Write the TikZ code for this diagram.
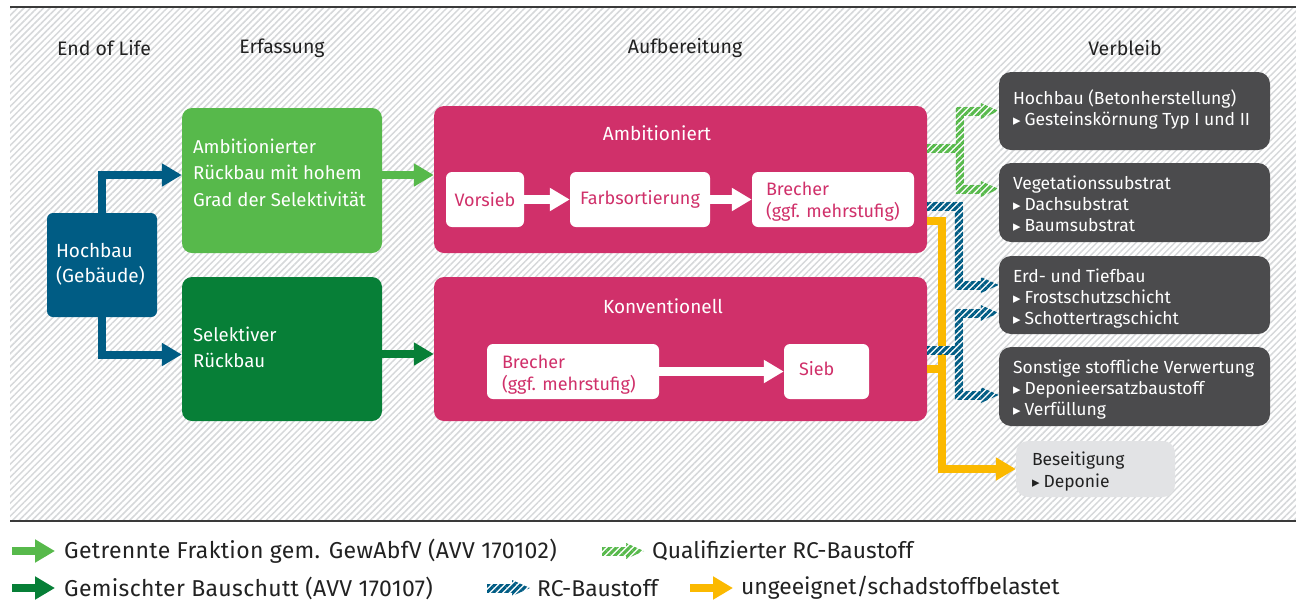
\documentclass[tikz,border=0pt]{standalone}
\usepackage{fontspec}
\setmainfont{Fira Sans}
\newfontfamily\dejavu{DejaVu Sans}
\usetikzlibrary{arrows.meta,calc,patterns.meta}

\definecolor{bgline}{HTML}{D6D8DA}
\definecolor{hbblue}{HTML}{005C84}
\definecolor{lgreen}{HTML}{57B94B}
\definecolor{dgreen}{HTML}{077F37}
\definecolor{mag}{HTML}{D0306A}
\definecolor{dgray}{HTML}{4B4B4D}
\definecolor{lgray}{HTML}{E2E3E5}
\definecolor{yel}{HTML}{FBB900}
\definecolor{txt}{HTML}{222222}
\definecolor{rule}{HTML}{3A3A3A}

\newcommand\tri{{\dejavu\fontsize{15}{15}\selectfont ▸}\hspace{4pt}}
% struts to fine-tune the vertical position of text blocks
\newcommand\up[1]{\rule{0pt}{#1}}
\newcommand\dn[1]{\rule[-#1]{0pt}{#1}}
% left-aligned block of fixed width, lines never broken
\newcommand\lt[2]{\makebox[#1][l]{\begin{tabular}{@{}l@{}}#2\end{tabular}}}
% hatched connector pieces (white ground, coloured stripes)
\newcommand\hH[3]{\fill[white] ($(#2)+(0,-4)$) rectangle ($(#3)+(0,4)$);
  \fill[#1] ($(#2)+(0,-4)$) rectangle ($(#3)+(0,4)$);}
\newcommand\hV[3]{\fill[white] ($(#2)+(-4,-4)$) rectangle ($(#3)+(4,4)$);
  \fill[#1] ($(#2)+(-4,-4)$) rectangle ($(#3)+(4,4)$);}
\newcommand\hArrow[3]{\fill[white] ($(#2)+(0,-4)$) rectangle ($(#3)+(-17,4)$);
  \fill[#1] ($(#2)+(0,-4)$) rectangle ($(#3)+(-17,4)$);
  \fill[white] (#3) -- ++(-18,-8) -- ++(0,16) -- cycle;
  \fill[#1] (#3) -- ++(-18,-8) -- ++(0,16) -- cycle;}

\tikzset{
  bodyf/.style={font=\fontsize{18.6}{26.5}\selectfont},
  box/.style={rounded corners=10pt, inner sep=0pt, bodyf},
  hb/.style={box, rounded corners=6pt, fill=hbblue, text=white, minimum width=110pt, minimum height=104pt, font=\fontsize{19}{25}\selectfont},
  gbox/.style={box, text=white, minimum width=200pt, minimum height=145pt},
  mbox/.style={box, fill=mag, minimum width=493pt},
  mtitle/.style={text=white, inner sep=0pt, font=\fontsize{19}{24}\selectfont},
  wbox/.style={rounded corners=6pt, inner sep=0pt, fill=white, text=mag, minimum height=55pt, font=\fontsize{18}{22}\selectfont},
  rbox/.style={rounded corners=12pt, inner sep=0pt, fill=dgray, text=white, minimum width=271pt, font=\fontsize{17.5}{21}\selectfont},
  hdr/.style={text=txt, inner sep=0pt, font=\fontsize{19.5}{24}\selectfont},
  leg/.style={text=txt, inner sep=0pt, anchor=west, font=\fontsize{22.8}{26}\selectfont},
  legd/.style={leg, font=\fontsize{23}{26}\selectfont\addfontfeature{LetterSpace=1.4}},
  sarrow/.style={draw=#1, line width=8pt, -{Triangle[length=20pt,width=22pt]}},
  sline/.style={draw=#1, line width=8pt},
  warrow/.style={draw=white, line width=9pt, -{Triangle[length=20pt,width=22pt]}},
  qh/.style={pattern={Lines[angle=45,distance=4.6pt,line width=3pt]}, pattern color=lgreen},
  bh/.style={pattern={Lines[angle=45,distance=4.6pt,line width=3pt]}, pattern color=hbblue},
}

\begin{document}
\begin{tikzpicture}[x=1pt,y=-1pt]
\fill[white] (0,0) rectangle (1296,611);
\useasboundingbox (0,0) rectangle (1296,611);
\fill[pattern={Lines[angle=45,distance=4.6pt,line width=1.5pt]}, pattern color=bgline] (10,7) rectangle (1296,520);
\draw[rule, line width=1.4pt] (10,7) -- (1296,7);
\draw[rule, line width=2.2pt] (10,521) -- (1296,521);

% headers
\node[hdr] (h1) at (104,48) {End of Life};
\node[hdr] (h2) at (282,48) {Erfassung};
\node[hdr] (h3) at (685,48) {Aufbereitung};
\node[hdr] (h4) at (1125,48) {Verbleib};

% left
\node[hb] (hoch) at (102,265) {\lt{92pt}{Hochbau\\(Gebäude)}};
\node[gbox, fill=lgreen] (g1) at (282,180.5) {\lt{178pt}{Ambitionierter\\Rückbau mit hohem\\Grad der Selektivität\dn{20pt}}};
\node[gbox, fill=dgreen, minimum height=144pt] (g2) at (282,349) {\lt{178pt}{Selektiver\\Rückbau}};

% processing
\node[mbox, minimum height=147pt] (amb) at (680.5,179.5) {};
\node[mtitle] (ambt) at (657,133) {Ambitioniert};
\node[mbox, minimum height=144pt] (kon) at (680.5,349) {};
\node[mtitle] (kont) at (663,306) {Konventionell};

\node[wbox, minimum width=78pt] (vor) at (485,199.5) {Vorsieb};
\node[wbox, minimum width=140pt] (farb) at (640,199.5) {Farbsortierung};
\node[wbox, minimum width=162pt] (br1) at (833,199.5) {\lt{134pt}{\up{21.4pt}Brecher\\(ggf. mehrstufig)}};
\node[wbox, minimum width=172pt] (br2) at (573,371.5) {\lt{142pt}{\up{22.4pt}Brecher\\(ggf. mehrstufig)}};
\node[wbox, minimum width=85pt] (sieb) at (826.5,371.5) {\lt{55pt}{Sieb}};

\draw[warrow] (vor) -- (farb);
\draw[warrow] (farb) -- (br1);
\draw[warrow] (br2) -- (sieb);

% destinations
\node[rbox, minimum height=78pt] (rA) at (1134.5,111) {\lt{243pt}{Hochbau (Betonherstellung)\\\tri Gesteinskörnung Typ I und II}};
\node[rbox, minimum height=79pt] (rB) at (1134.5,202.5) {\lt{243pt}{\up{22.7pt}Vegetationssubstrat\\\tri Dachsubstrat\\\tri Baumsubstrat}};
\node[rbox, minimum height=78pt] (rC) at (1134.5,295) {\lt{243pt}{\up{22.7pt}Erd- und Tiefbau\\\tri Frostschutzschicht\\\tri Schottertragschicht}};
\node[rbox, minimum height=79pt] (rD) at (1134.5,386.5) {\lt{243pt}{\up{22.7pt}Sonstige stoffliche Verwertung\\\tri Deponieersatzbaustoff\\\tri Verfüllung}};
\node[rbox, fill=lgray, text=txt, minimum width=159pt, minimum height=56pt, font=\fontsize{17.5}{22}\selectfont] (rE) at (1095.5,469) {\lt{127pt}{\up{22.4pt}Beseitigung\\\tri Deponie}};

% left connectors
\draw[sarrow=hbblue] (hoch.north) |- ($(g1.west)+(0,-5.5)$);
\draw[sarrow=hbblue] (hoch.south) |- ($(g2.west)+(0,5.5)$);
\draw[sarrow=lgreen] ($(g1.east)+(0,-5.5)$) -- ($(amb.west)+(0,-4.5)$);
\draw[sarrow=dgreen] ($(g2.east)+(0,5)$) -- ($(kon.west)+(0,5)$);

% yellow
\coordinate (yc) at ($(rE.west)+(-74,0)$);
\draw[sarrow=yel] ($(amb.east)+(0,41.5)$) -| (yc) -- (rE.west);
\coordinate (y2) at ($(kon.east)+(0,20)$);
\draw[sline=yel] (y2) -- (y2 -| yc);

% qualified (green hatched)
\coordinate (qv) at ($(rA.west)+(-39,0)$);
\coordinate (q0) at ($(amb.east)+(0,-31.5)$);
\coordinate (q1) at (q0 -| qv);
\coordinate (qA) at (rA.west);
\coordinate (qB) at ($(rB.west)+(0,-13.5)$);
\coordinate (qa) at (qA -| qv);
\coordinate (qb) at (qB -| qv);
\hH{qh}{q0}{q1}
\hV{qh}{qa}{qb}
\hArrow{qh}{qa}{qA}
\hArrow{qh}{qb}{qB}

% RC (blue hatched)
\coordinate (bv) at ($(rC.west)+(-40,0)$);
\coordinate (b0) at ($(amb.east)+(0,26.5)$);
\coordinate (b1) at (b0 -| bv);
\coordinate (bC) at ($(rC.west)+(0,-10)$);
\coordinate (bc) at (bC -| bv);
\hH{bh}{b0}{b1}
\hV{bh}{b1}{bc}
\hArrow{bh}{bc}{bC}
\coordinate (k0) at ($(kon.east)+(0,1)$);
\coordinate (k1) at (k0 -| bv);
\coordinate (kC) at ($(rC.west)+(0,18)$);
\coordinate (kD) at ($(rD.west)+(0,8.5)$);
\coordinate (kc) at (kC -| bv);
\coordinate (kd) at (kD -| bv);
\hH{bh}{k0}{k1}
\hV{bh}{kc}{kd}
\hArrow{bh}{kc}{kC}
\hArrow{bh}{kd}{kD}

% legend
\node[legd] (l1) at (64,551) {Getrennte Fraktion gem. GewAbfV (AVV 170102)};
\node[leg] (l2) at (652,551) {Qualifizierter RC-Baustoff};
\node[legd] (l3) at (64,588) {Gemischter Bauschutt (AVV 170107)};
\node[leg] (l4) at (537,588) {RC-Baustoff};
\node[leg] (l5) at (741,588) {ungeeignet/schadstoffbelastet};
\coordinate (i1) at ($(l1.west)+(-52,0)$);
\coordinate (i3) at ($(l3.west)+(-52,0)$);
\coordinate (i5) at ($(l5.west)+(-51,0)$);
\draw[sarrow=lgreen] (i1) -- ($(l1.west)+(-9,0)$);
\draw[sarrow=dgreen] (i3) -- ($(l3.west)+(-9,0)$);
\draw[sarrow=yel] (i5) -- ($(l5.west)+(-8,0)$);
\coordinate (i2) at ($(l2.west)+(-50,0)$);
\coordinate (t2) at ($(l2.west)+(-8,0)$);
\coordinate (i4) at ($(l4.west)+(-50,0)$);
\coordinate (t4) at ($(l4.west)+(-7,0)$);
\hArrow{qh}{i2}{t2}
\hArrow{bh}{i4}{t4}
\end{tikzpicture}
\end{document}
